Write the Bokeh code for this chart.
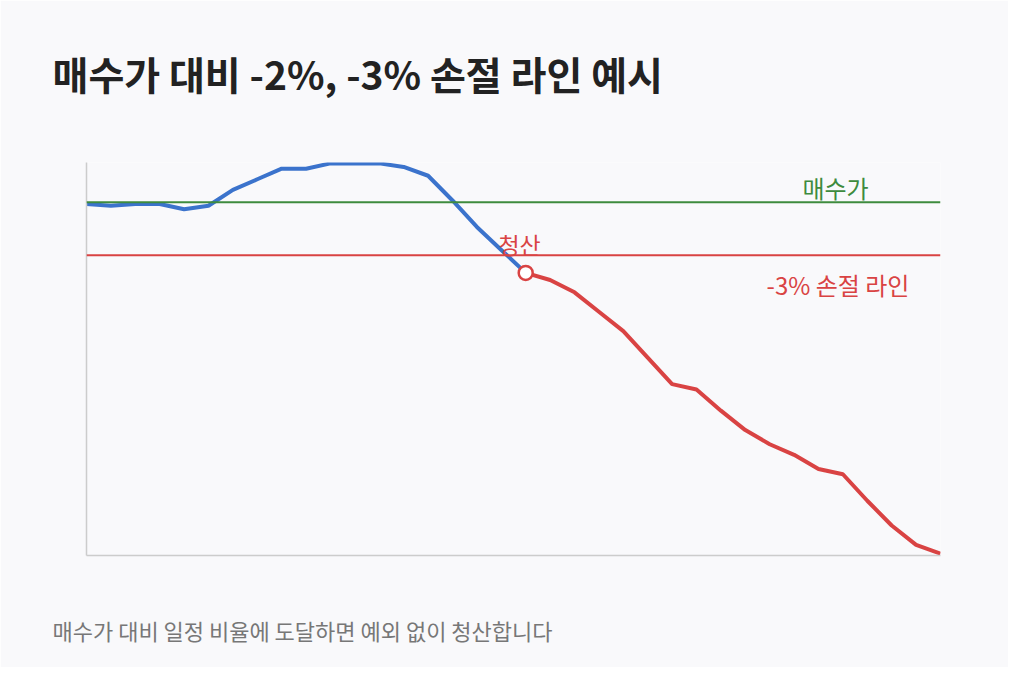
from bokeh.plotting import figure
from bokeh.models import Range1d, Span, Label, Title, LinearAxis, FixedTicker
from bokeh.embed import file_html
from bokeh.resources import INLINE

# price path (buy price = 100)
days = list(range(36))
price = [99.9, 99.8, 99.9, 99.9, 99.6, 99.8, 100.7, 101.3, 101.9, 101.9,
         102.2, 102.2, 102.2, 102.0, 101.5, 100.1, 98.6, 97.3, 96.0, 95.6,
         94.9, 93.8, 92.7, 91.2, 89.7, 89.4, 88.2, 87.1, 86.3, 85.7,
         84.9, 84.6, 83.1, 81.7, 80.6, 80.1]
buy_price = 100
stop_price = 97
exit_idx = 18

title_text = "매수가 대비 -2%, -3% 손절 라인 예시"
footer_text = "매수가 대비 일정 비율에 도달하면 예외 없이 청산합니다"
buy_label = "매수가"
stop_label = "-3% 손절 라인"
exit_label = "청산"

BG = "#f9f9fb"
BLUE = "#3b73cc"
GREEN = "#3e8b3e"
RED = "#d94343"
FONT = "Noto Sans CJK KR"

p = figure(width=1008, height=667, output_backend="svg", toolbar_location=None,
           x_range=Range1d(0, 35), y_range=Range1d(80, 102.25),
           x_axis_location=None, y_axis_location=None,
           min_border_left=86, min_border_right=68, min_border_top=162, min_border_bottom=112)
p.background_fill_color = BG
p.border_fill_color = BG
p.outline_line_color = None
p.grid.visible = False
p.title.visible = False


def bare_axis():
    return LinearAxis(ticker=FixedTicker(ticks=[]), axis_line_color="#cccccc",
                      axis_line_width=1.5, major_tick_line_color=None,
                      minor_tick_line_color=None)


def spacer(gap):
    # blank title used only to push the real titles away from the plot
    return Title(text=" ", text_font=FONT, text_font_size="22px", text_color=BG,
                 standoff=gap)


p.add_layout(bare_axis(), "left")
p.add_layout(bare_axis(), "below")

p.add_layout(spacer(23), "above")
p.add_layout(Title(text=title_text, text_font=FONT, text_font_size="39px",
                   text_font_style="bold", text_color="#222222", align="left",
                   offset=-34), "above")
p.add_layout(spacer(17), "below")
p.add_layout(Title(text=footer_text, text_font=FONT, text_font_size="22px",
                   text_font_style="normal", text_color="#777777", align="left",
                   offset=-34), "below")

p.add_layout(Span(location=buy_price, dimension="width", line_color=GREEN, line_width=2))
p.add_layout(Span(location=stop_price, dimension="width", line_color=RED, line_width=2))

p.line(days[:exit_idx + 1], price[:exit_idx + 1], line_color=BLUE, line_width=4)
p.line(days[exit_idx:], price[exit_idx:], line_color=RED, line_width=4)
p.scatter([days[exit_idx]], [price[exit_idx]], size=14, fill_color="white",
          line_color=RED, line_width=2.5)

p.add_layout(Label(x=30.7, y=100.85, text=buy_label, text_font=FONT, text_font_size="24px",
                   text_color=GREEN, text_align="center", text_baseline="middle"))
p.add_layout(Label(x=30.8, y=95.36, text=stop_label, text_font=FONT, text_font_size="24px",
                   text_color=RED, text_align="center", text_baseline="middle"))
p.add_layout(Label(x=17.75, y=97.62, text=exit_label, text_font=FONT, text_font_size="23px",
                   text_color=RED, text_align="center", text_baseline="middle"))

open("out.html", "w").write(file_html(p, INLINE))
